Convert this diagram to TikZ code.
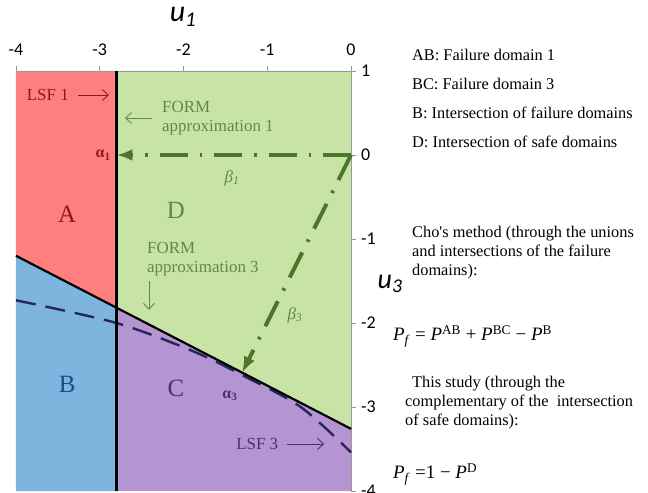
\documentclass[tikz,border=0pt]{standalone}
\usepackage{fontspec}
\setmainfont{Liberation Serif}[Ligatures=TeXOff]
\newfontfamily\axisfont{Carlito}
\usetikzlibrary{arrows.meta}

\definecolor{domA}{RGB}{255,127,127}
\definecolor{domD}{RGB}{199,228,166}
\definecolor{domB}{RGB}{126,181,222}
\definecolor{domC}{RGB}{181,149,209}
\definecolor{betagreen}{RGB}{78,118,40}
\definecolor{formgreen}{RGB}{98,138,62}
\definecolor{lsfred}{RGB}{150,22,22}
\definecolor{lsfpurple}{RGB}{78,44,112}
\definecolor{lsfblue}{RGB}{28,78,128}
\definecolor{lsfdash}{RGB}{38,38,92}

\tikzset{
  axisline/.style={gray!80, line width=0.8bp},
  axisnum/.style={font=\axisfont\fontsize{18}{18}\selectfont, inner sep=0pt},
  axisname/.style={font=\axisfont\itshape\fontsize{30}{30}\selectfont, inner sep=0pt},
  lbl/.style={font=\fontsize{17}{19}\selectfont, inner sep=0pt, align=left},
  bigletter/.style={font=\fontsize{25}{25}\selectfont, inner sep=0pt},
  legend/.style={font=\fontsize{16.4}{19}\selectfont, inner sep=0pt, align=left},
  formula/.style={font=\fontsize{19}{19}\selectfont, inner sep=0pt},
  lsfline/.style={black, line width=2.2bp},
  lsfcurve/.style={lsfdash, line width=2.4bp, dash pattern=on 20bp off 10bp},
  betapath/.style={betagreen, line width=4bp, dash pattern=on 28bp off 12bp on 2.5bp off 12bp,
    -{Latex[length=16bp,width=12bp]}},
  notearrow/.style={line width=0.9bp, -{Straight Barb[length=6bp,width=11bp]}}
}

\begin{document}
\begin{tikzpicture}[x=83.75bp,y=84bp]
\useasboundingbox (-4.191,-4.012) rectangle (3.546,1.845);

% Eckpunkte der Bereiche
\coordinate (tl) at (-4,1);
\coordinate (tr) at (0,1);
\coordinate (bl) at (-4,-4);
\coordinate (br) at (0,-4);
\coordinate (v1t) at (-2.8,1);
\coordinate (v1b) at (-2.8,-4);
\coordinate (l3l) at (-4,-1.2);
\coordinate (l3r) at (0,-3.26);
\coordinate (xpt) at (-2.8,-1.818);

% Bereiche A, D, B, C
\fill[domA] (tl) -- (v1t) -- (xpt) -- (l3l) -- cycle;
\fill[domD] (v1t) -- (tr) -- (l3r) -- (xpt) -- cycle;
\fill[domB] (l3l) -- (xpt) -- (v1b) -- (bl) -- cycle;
\fill[domC] (xpt) -- (l3r) -- (br) -- (v1b) -- cycle;

% Achsen
\draw[axisline] (tl) -- (tr) -- (br);
\foreach \x in {-4,...,0} {
  \draw[axisline] (\x,1) -- ++(0,5bp);
  \node[axisnum] (xt\x) at ([yshift=21bp]\x,1) {\x};
}
\foreach \y in {1,0,...,-4} {
  \draw[axisline] (0,\y) -- ++(5bp,0);
  \node[axisnum, anchor=west] (yt\y) at ([xshift=10bp]0,\y) {\y};
}
\node[axisname] (u1) at (-2.006,1.643) {u\textsubscript{1}};
\node[axisname, font=\axisfont\itshape\fontsize{28}{28}\selectfont] (u3) at (0.466,-1.536) {u\textsubscript{3}};

% Grenzzustaende
\draw[lsfcurve] plot[smooth] coordinates {(-4,-1.73) (-2.8,-2.0) (-1.9,-2.33) (-1.3,-2.62) (-0.6,-3.0) (0,-3.54)};
\draw[lsfline] (v1t) -- (v1b);
\draw[lsfline] (l3l) -- (l3r);

% Zuverlaessigkeitsindizes
\coordinate (o) at (0,0);
\coordinate (a1) at (-2.8,0);
\coordinate (a3) at (-1.3,-2.5905);
\draw[betapath] (o) -- (a1);
\draw[betapath] (o) -- (a3);

\node[lbl, text=lsfred, font=\bfseries\fontsize{16}{19}\selectfont] (al1) at (-2.96,0) {α\textsubscript{1}};
\node[lbl, text=lsfpurple, font=\bfseries\fontsize{16}{19}\selectfont] (al3) at (-1.445,-2.869) {α\textsubscript{3}};
\node[lbl, text=formgreen, font=\itshape\fontsize{17}{19}\selectfont] (be1) at (-1.42,-0.274) {β\textsubscript{1}};
\node[lbl, text=formgreen, font=\itshape\fontsize{17}{19}\selectfont] (be3) at (-0.669,-1.905) {β\textsubscript{3}};

% Bereichsbuchstaben
\node[bigletter, text=lsfred] (la) at (-3.39,-0.70) {A};
\node[bigletter, text=formgreen] (ld) at (-2.09,-0.655) {D};
\node[bigletter, text=lsfblue] (lb) at (-3.39,-2.726) {B};
\node[bigletter, text=lsfpurple] (lc) at (-2.09,-2.774) {C};

% Hinweise
\node[lbl, text=lsfred] (lsf1) at (-3.62,0.714) {LSF 1};
\coordinate (lsf1tip) at (-2.89,0.714);
\draw[notearrow, lsfred, shorten <=9bp] (lsf1) -- (lsf1tip);

\node[lbl, text=formgreen, anchor=west] (form1) at (-2.257,0.44) {FORM\\approximation 1};
\coordinate (f1tip) at (-2.699,0.44);
\draw[notearrow, formgreen, shorten <=10bp] (form1.west) -- (f1tip);

\node[lbl, text=formgreen, anchor=west] (form3) at (-2.436,-1.238) {FORM\\approximation 3};
\coordinate (f3tip) at (-2.412,-1.845);
\draw[notearrow, formgreen, shorten <=5bp] (form3.south west -| f3tip) -- (f3tip);

\node[lbl, text=lsfpurple] (lsf3) at (-1.12,-3.44) {LSF 3};
\coordinate (lsf3tip) at (-0.32,-3.44);
\draw[notearrow, lsfpurple, shorten <=9bp] (lsf3) -- (lsf3tip);

% Legende
\node[legend, anchor=base west] (leg1) at (0.728,1.119) {AB: Failure domain 1};
\node[legend, anchor=base west] (leg2) at (0.728,0.774) {BC: Failure domain 3};
\node[legend, anchor=base west] (leg3) at (0.728,0.44) {B: Intersection of failure domains};
\node[legend, anchor=base west] (leg4) at (0.728,0.095) {D: Intersection of safe domains};

\node[legend, anchor=north west] (cho) at (0.728,-0.845) {Cho's method (through the unions\\and intersections of the failure\\domains):};
\node[formula, anchor=base west] (eqcho) at (0.501,-2.214)
  {\textit{P}\textsubscript{\textit{f}} = \textit{P}\textsuperscript{AB} + \textit{P}\textsuperscript{BC} − \textit{P}\textsuperscript{B}};

\node[legend, anchor=north west] (study) at (0.645,-2.631) {\hspace{7bp}This study (through the\\complementary of the\ \ intersection\\of safe domains):};
\node[formula, anchor=base west] (eqstudy) at (0.501,-3.857)
  {\textit{P}\textsubscript{\textit{f}} =1 − \textit{P}\textsuperscript{D}};
\end{tikzpicture}
\end{document}
